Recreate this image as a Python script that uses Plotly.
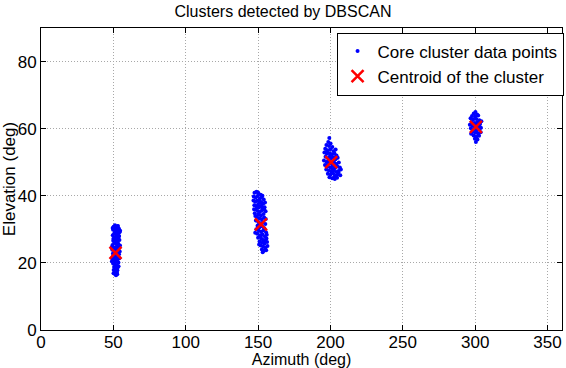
import plotly.graph_objects as go

# Cluster 1 (azimuth ~50)
c1_az = [50.2,51.5,52.8,53.9,49.8,51.0,52.3,53.5,54.3,50.5,51.8,53.0,49.6,52.2,54.0,50.9,53.4,51.6,49.9,52.7,
         54.2,50.6,51.9,53.3,49.4,52.5,50.3,51.4,53.8,49.2,50.8,52.0,53.1,54.4,49.7,51.2,52.6,53.9,50.4,51.7,
         49.3,52.9,54.1,50.7,52.1,53.5,49.8,51.3,52.6,50.5,51.9,53.0,50.2,51.5,52.4,50.9,51.8,52.7,50.1,53.6,
         54.6,48.9,49.0,51.1,53.2,50.0,52.0,51.2,53.7,50.0,52.3,51.6,53.4,50.3,52.8,51.0,52.5,49.5,54.7]
c1_el = [30.8,30.5,30.9,30.2,29.9,29.6,29.8,29.4,29.1,28.7,28.9,28.5,28.2,27.9,28.0,27.5,27.3,26.9,26.6,26.4,
         26.8,25.9,25.6,25.8,25.3,24.9,24.6,24.3,24.5,23.9,23.6,23.2,23.7,23.4,22.8,22.5,22.2,22.6,21.9,21.6,
         21.3,21.0,21.4,20.7,20.4,20.1,19.8,19.5,19.2,18.8,18.4,18.6,17.9,17.5,17.2,16.8,16.3,16.6,16.9,19.0,
         25.2,24.7,20.5,31.2,31.0,27.2,30.0,26.2,27.9,22.3,24.0,23.9,21.8,20.2,17.8,21.0,28.4,30.4,29.6]

# Cluster 2 (azimuth ~150)
c2_az = [147.5,148.9,150.3,151.8,147.0,148.4,149.7,151.2,152.6,153.9,146.8,148.0,149.3,150.8,152.2,153.5,154.8,
         147.4,149.0,150.4,151.7,153.1,154.5,148.3,149.8,151.3,152.7,155.2,147.7,150.1,152.0,153.8,149.2,150.9,
         152.5,154.2,148.5,150.2,151.6,153.3,155.0,149.6,151.0,152.8,154.3,148.8,150.5,152.1,153.7,155.5,149.4,
         151.4,153.0,154.7,150.0,152.3,153.8,155.8,151.0,152.9,154.4,156.2,151.8,153.5,155.1,152.6,154.0,155.6,
         153.2,150.7,148.1,147.2,156.0,149.9,152.4,151.1,153.0,150.0,154.1,150.6,148.0,155.3,151.9,154.9,156.5]
c2_el = [40.9,41.2,40.6,40.3,39.8,39.5,39.9,39.2,39.6,38.9,38.6,38.2,38.5,37.9,38.1,37.6,38.0,
         37.2,36.8,36.5,36.9,36.3,36.6,35.9,35.5,35.2,35.7,35.4,34.8,34.4,34.1,34.6,33.7,33.3,
         33.0,33.5,32.6,32.2,31.8,32.0,31.6,31.1,30.6,30.9,30.3,30.0,29.6,29.3,29.7,29.1,28.7,
         28.2,28.5,27.9,27.5,27.1,26.8,27.3,26.4,26.0,25.7,26.2,25.2,24.8,24.5,24.0,23.6,23.8,
         23.2,25.5,34.0,36.0,28.4,37.3,37.0,38.6,40.0,41.0,36.0,31.4,29.0,33.1,27.8,26.5,25.0]

# Cluster 3 (azimuth ~200)
c3_az = [199.2,198.5,200.1,197.2,199.0,201.3,196.4,198.1,200.0,202.2,203.6,195.8,197.5,199.4,201.0,202.8,204.2,
         196.6,198.3,200.2,201.9,203.5,205.0,195.5,197.3,199.0,200.8,202.5,204.1,205.8,196.2,198.0,199.8,201.6,
         203.2,204.8,206.5,197.1,198.9,200.6,202.3,204.0,205.6,207.2,198.2,200.0,201.8,203.5,205.2,206.8,199.3,
         201.2,203.0,204.6,196.8,200.6,202.0,198.6,203.9,201.5,197.8,205.5,199.6,202.7]
c3_el = [57.2,56.0,55.6,55.1,54.8,54.5,54.0,53.6,53.9,53.3,53.8,52.9,52.5,52.7,52.2,52.6,52.0,
         51.6,51.2,51.0,51.4,50.9,51.3,50.5,50.1,49.8,49.6,50.0,49.5,49.9,49.2,48.8,48.5,48.9,
         48.3,48.7,48.4,47.8,47.5,47.2,47.6,47.1,47.4,47.8,46.6,46.3,46.7,46.0,46.4,46.1,45.5,
         45.2,45.0,45.4,53.0,52.4,49.0,50.3,51.6,47.9,49.0,47.0,51.8,45.7]

# Cluster 4 (azimuth ~300)
c4_az = [300.2,299.0,301.3,297.8,300.0,302.1,296.8,298.7,300.8,302.9,297.5,299.4,301.5,303.4,296.3,298.2,300.3,
         302.4,304.0,297.0,299.1,301.2,303.1,298.0,300.0,302.0,303.8,298.9,301.0,302.7,299.8,301.6,300.5,297.2,
         304.3,299.6,301.8,298.5,300.9,302.6]
c4_el = [65.0,64.5,64.2,63.8,63.6,63.9,63.1,62.8,62.9,62.5,62.0,61.7,61.9,61.4,61.2,60.9,60.6,
         60.8,60.3,60.1,59.8,59.5,59.9,59.1,58.8,58.6,58.9,58.0,57.7,57.9,57.0,56.8,56.0,58.5,
         62.2,60.2,60.9,61.5,61.3,61.0]

centroid_az = [51.5, 152.0, 200.5, 300.5]
centroid_el = [23.0, 31.5, 50.0, 60.5]

x_ticks = [0, 50, 100, 150, 200, 250, 300, 350]
y_ticks = [0, 20, 40, 60, 80]

all_az = c1_az + c2_az + c3_az + c4_az
all_el = c1_el + c2_el + c3_el + c4_el

FONT = "Liberation Sans, Arial, sans-serif"

fig = go.Figure()
fig.add_trace(go.Scatter(
    x=all_az, y=all_el, mode="markers", name="Core cluster data points",
    marker=dict(color="#0000ff", size=4, symbol="circle", line=dict(width=0)),
))
fig.add_trace(go.Scatter(
    x=centroid_az, y=centroid_el, mode="markers", name="Centroid of the cluster",
    marker=dict(color="#ff0000", size=12, symbol="x-thin", line=dict(width=2.5, color="#ff0000")),
))

axis_common = dict(
    showgrid=True, gridcolor="#a8a8a8", griddash="1px,2px", gridwidth=1,
    showline=True, linecolor="black", linewidth=1, mirror="ticks",
    ticks="inside", ticklen=5, tickcolor="black", zeroline=False, automargin=False,
    tickfont=dict(size=17, color="black", family=FONT),
)

fig.update_layout(
    width=566, height=368,
    margin=dict(l=41, r=4, t=28, b=38, autoexpand=False),
    paper_bgcolor="white", plot_bgcolor="white",
    title=dict(text="Clusters detected by DBSCAN", x=0.5, xanchor="center", y=0.985, yanchor="top",
               font=dict(size=16, color="black", family=FONT)),
    xaxis=dict(range=[0, 360], tickvals=x_ticks, ticklabelstandoff=-3,
               title=dict(text="Azimuth (deg)", font=dict(size=16, color="black", family=FONT), standoff=2),
               **axis_common),
    yaxis=dict(range=[0, 90], tickvals=y_ticks,
               title=dict(text="Elevation (deg)", font=dict(size=17, color="black", family=FONT), standoff=2),
               **axis_common),
    legend=dict(x=1.003, y=0.985, xanchor="right", yanchor="top", bgcolor="white",
                bordercolor="black", borderwidth=1, font=dict(size=17, color="black", family=FONT),
                itemwidth=30, tracegroupgap=0),
    showlegend=True,
)

fig.write_html("out.html", config={"displayModeBar": False})

# remove the default page margin so the figure sits at the window's top-left corner
with open("out.html", "r", encoding="utf-8") as f:
    html = f.read()
html = html.replace("<head>", "<head><style>html,body{margin:0;padding:0;overflow:hidden;}</style>", 1)
with open("out.html", "w", encoding="utf-8") as f:
    f.write(html)
